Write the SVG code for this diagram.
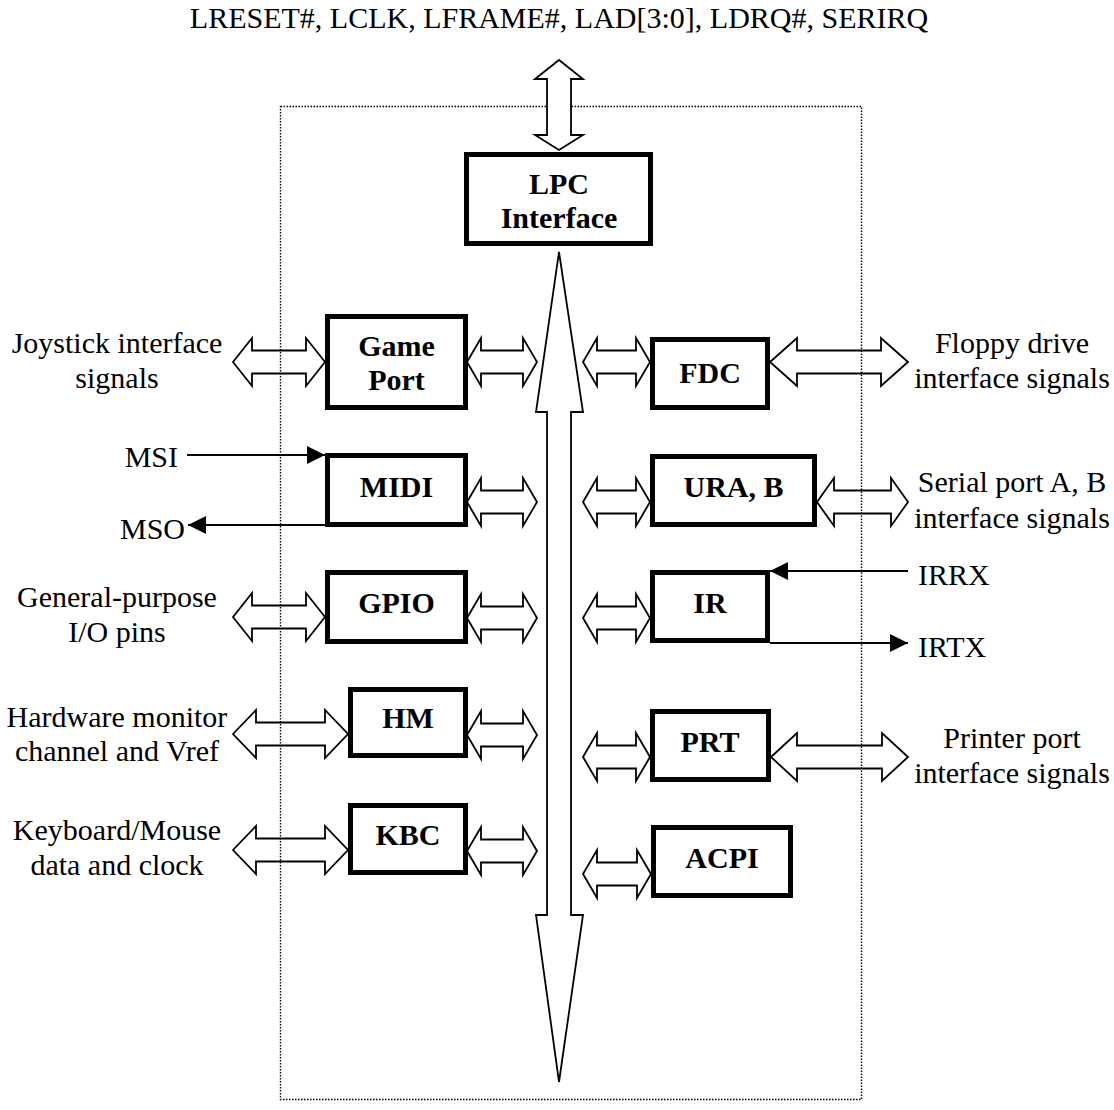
<svg xmlns="http://www.w3.org/2000/svg" width="1114" height="1110" viewBox="0 0 1114 1110">
<style>
text{font-family:"Liberation Serif","Times New Roman",serif;font-size:30px;fill:#000}
.b{font-weight:bold;text-anchor:middle}
.m{text-anchor:middle}
.box{fill:#fff;stroke:#000;stroke-width:5}
.da{fill:none;stroke:#000;stroke-width:1.8;stroke-linejoin:miter}
.bus{fill:#fff;stroke:#000;stroke-width:1.8}
.sig{stroke:#000;stroke-width:1.8;fill:none}
.frame{fill:none;stroke:#000;stroke-width:1.4;stroke-dasharray:1.5 1.5}
</style>
<defs>
<marker id="tri" viewBox="0 0 18 18" refX="18" refY="9" markerUnits="userSpaceOnUse" markerWidth="18" markerHeight="18" orient="auto">
<path d="M0,0 L18,9 L0,18 Z" fill="#000"/>
</marker>
</defs>
<rect class="frame" x="280.5" y="106.5" width="581" height="993"/>
<text class="m" x="559" y="28">LRESET#, LCLK, LFRAME#, LAD[3:0], LDRQ#, SERIRQ</text>
<g id="connectors">
<path class="bus" d="M559,60 L583,79 L571,79 L571,135 L583,135 L559,150 L535,135 L547,135 L547,79 L535,79 Z"/>
<path class="bus" d="M559,252 L583,412 L571,412 L571,915 L583,915 L559,1082 L536,915 L547,915 L547,412 L536,412 Z"/>
<path class="da" d="M233,362 L252,338 L252,350.5 L306,350.5 L306,338 L325,362 L306,386 L306,373.5 L252,373.5 L252,386 Z"/>
<path class="da" d="M233,617 L252,593 L252,605.5 L306,605.5 L306,593 L325,617 L306,641 L306,628.5 L252,628.5 L252,641 Z"/>
<path class="da" d="M233,734 L256,710 L256,722.5 L325,722.5 L325,710 L348,734 L325,758 L325,745.5 L256,745.5 L256,758 Z"/>
<path class="da" d="M233,850 L256,826 L256,838.5 L325,838.5 L325,826 L348,850 L325,874 L325,861.5 L256,861.5 L256,874 Z"/>
<path class="da" d="M467,362 L481,338 L481,350.5 L523,350.5 L523,338 L537,362 L523,386 L523,373.5 L481,373.5 L481,386 Z"/>
<path class="da" d="M467,502 L481,478 L481,490.5 L523,490.5 L523,478 L537,502 L523,526 L523,513.5 L481,513.5 L481,526 Z"/>
<path class="da" d="M467,618 L481,594 L481,606.5 L523,606.5 L523,594 L537,618 L523,642 L523,629.5 L481,629.5 L481,642 Z"/>
<path class="da" d="M467,735 L481,711 L481,723.5 L523,723.5 L523,711 L537,735 L523,759 L523,746.5 L481,746.5 L481,759 Z"/>
<path class="da" d="M467,851 L481,827 L481,839.5 L523,839.5 L523,827 L537,851 L523,875 L523,862.5 L481,862.5 L481,875 Z"/>
<path class="da" d="M583,362 L597,338 L597,350.5 L636,350.5 L636,338 L650,362 L636,386 L636,373.5 L597,373.5 L597,386 Z"/>
<path class="da" d="M583,502 L597,478 L597,490.5 L636,490.5 L636,478 L650,502 L636,526 L636,513.5 L597,513.5 L597,526 Z"/>
<path class="da" d="M583,618 L597,594 L597,606.5 L636,606.5 L636,594 L650,618 L636,642 L636,629.5 L597,629.5 L597,642 Z"/>
<path class="da" d="M583,757 L597,733 L597,745.5 L636,745.5 L636,733 L650,757 L636,781 L636,768.5 L597,768.5 L597,781 Z"/>
<path class="da" d="M583,874 L597,850 L597,862.5 L637,862.5 L637,850 L651,874 L637,898 L637,885.5 L597,885.5 L597,898 Z"/>
<path class="da" d="M770,362 L797,338 L797,350.5 L881,350.5 L881,338 L908,362 L881,386 L881,373.5 L797,373.5 L797,386 Z"/>
<path class="da" d="M817,502 L834,478 L834,490.5 L891,490.5 L891,478 L908,502 L891,526 L891,513.5 L834,513.5 L834,526 Z"/>
<path class="da" d="M771,757 L797,733 L797,745.5 L882,745.5 L882,733 L908,757 L882,781 L882,768.5 L797,768.5 L797,781 Z"/>
<line class="sig" x1="187" y1="455" x2="325" y2="455" marker-end="url(#tri)"/>
<line class="sig" x1="325" y1="525" x2="188" y2="525" marker-end="url(#tri)"/>
<line class="sig" x1="908" y1="571" x2="770" y2="571" marker-end="url(#tri)"/>
<line class="sig" x1="770" y1="643" x2="908" y2="643" marker-end="url(#tri)"/>
</g>
<g id="lpc"><rect class="box" x="466.5" y="154.5" width="184" height="89"/><text class="b" x="559" y="194">LPC</text><text class="b" x="559" y="228">Interface</text></g>
<g id="gameport"><rect class="box" x="327.5" y="316.5" width="138" height="91"/><text class="b" x="396.5" y="356">Game</text><text class="b" x="396.5" y="390">Port</text></g>
<g id="midi"><rect class="box" x="327.5" y="455.5" width="138" height="69"/><text class="b" x="396.5" y="497">MIDI</text></g>
<g id="gpio"><rect class="box" x="327.5" y="572.5" width="138" height="69"/><text class="b" x="396.5" y="613">GPIO</text></g>
<g id="hm"><rect class="box" x="350.5" y="689.5" width="115" height="66"/><text class="b" x="408" y="728">HM</text></g>
<g id="kbc"><rect class="box" x="350.5" y="805.5" width="115" height="67"/><text class="b" x="408" y="845">KBC</text></g>
<g id="fdc"><rect class="box" x="652.5" y="339.5" width="115" height="68"/><text class="b" x="710" y="383">FDC</text></g>
<g id="ura"><rect class="box" x="652.5" y="456.5" width="162" height="68"/><text class="b" x="733.5" y="497">URA, B</text></g>
<g id="ir"><rect class="box" x="652.5" y="572.5" width="115" height="68"/><text class="b" x="710" y="613">IR</text></g>
<g id="prt"><rect class="box" x="652.5" y="711.5" width="116" height="68"/><text class="b" x="710" y="752">PRT</text></g>
<g id="acpi"><rect class="box" x="653.5" y="827.5" width="137" height="68"/><text class="b" x="722" y="868">ACPI</text></g>
<g id="labels">
<text class="m" x="117" y="353">Joystick interface</text><text class="m" x="117" y="388">signals</text>
<text x="178" y="467" text-anchor="end">MSI</text>
<text x="185" y="539" text-anchor="end">MSO</text>
<text class="m" x="117" y="607">General-purpose</text><text class="m" x="117" y="642">I/O pins</text>
<text class="m" x="117" y="727">Hardware monitor</text><text class="m" x="117" y="761">channel and Vref</text>
<text class="m" x="117" y="840">Keyboard/Mouse</text><text class="m" x="117" y="875">data and clock</text>
<text class="m" x="1012" y="353">Floppy drive</text><text class="m" x="1012" y="388">interface signals</text>
<text class="m" x="1012" y="492">Serial port A, B</text><text class="m" x="1012" y="528">interface signals</text>
<text x="918" y="585">IRRX</text>
<text x="918" y="657">IRTX</text>
<text class="m" x="1012" y="748">Printer port</text><text class="m" x="1012" y="783">interface signals</text>
</g>
</svg>
